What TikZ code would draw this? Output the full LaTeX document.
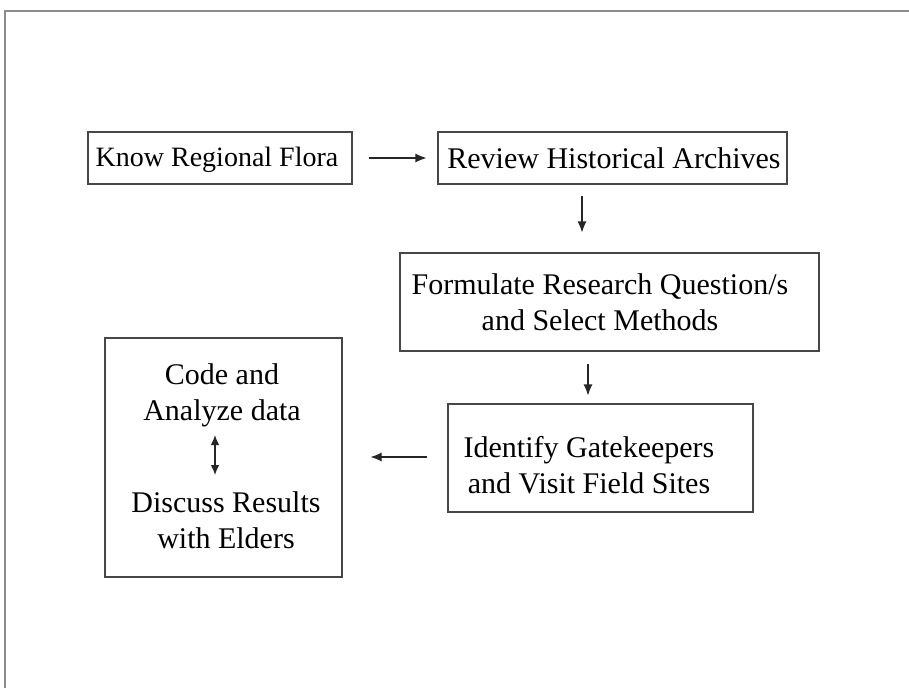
\documentclass[tikz,border=0pt]{standalone}
\usepackage{fontspec}
\setmainfont{Liberation Serif}
\usetikzlibrary{arrows.meta}
\begin{document}
\begin{tikzpicture}[x=1pt,y=-1pt,
  box/.style={draw=black!72,line width=1.1pt,rectangle,inner sep=0pt},
  txt/.style={inner sep=0pt,align=center,font=\fontsize{30}{36}\selectfont},
  arr/.style={draw=black!85,line width=1.1pt,-{Latex[length=11pt,width=9pt]}},
  darr/.style={draw=black!85,line width=1.1pt,{Latex[length=10pt,width=8.5pt]}-{Latex[length=10pt,width=8.5pt]}},
  frame/.style={draw=black!45,line width=2pt}]
\useasboundingbox (0,0) rectangle (909,688);
\coordinate (fl) at (5,688);
\coordinate (fc) at (5,11);
\coordinate (fr) at (909,11);
\draw[frame] (fl) -- (fc) -- (fr);

\node[box,minimum width=264pt,minimum height=52pt] (A) at (220,158) {};
\node[box,minimum width=349pt,minimum height=52pt] (B) at (612.5,158) {};
\node[box,minimum width=419pt,minimum height=98pt] (C) at (609.5,302) {};
\node[box,minimum width=305pt,minimum height=108pt] (D) at (600.5,458) {};
\node[box,minimum width=237pt,minimum height=239pt] (E) at (223.5,457.5) {};

\node[txt,font=\fontsize{28}{36}\selectfont] (A1) at (217,160) {Know Regional Flora};
\node[txt] (B1) at (614,158) {Review Historical Archives};
\node[txt] (C1) at (600,302) {Formulate Research Question/s\\and Select Methods};
\node[txt] (D1) at (589,465) {Identify Gatekeepers\\and Visit Field Sites};
\node[txt] (E1) at (222,395) {Code and\\Analyze data};
\node[txt] (E2) at (226,520) {Discuss Results\\with Elders};

\draw[arr] ([xshift=16pt]A.east) -- ([xshift=-11pt]B.west);
\draw[arr] ([xshift=-30.5pt,yshift=-11pt]B.south) -- ([xshift=-27.5pt,yshift=20pt]C.north);
\draw[arr] ([xshift=-21.5pt,yshift=-12pt]C.south) -- ([xshift=-12.5pt,yshift=8pt]D.north);
\draw[arr] ([xshift=-20pt,yshift=1pt]D.west) -- ([xshift=28pt,yshift=0.5pt]E.east);
\draw[darr] ([xshift=-8.5pt,yshift=22.5pt]E.center) -- ([xshift=-8.5pt,yshift=-17.5pt]E.center);
\end{tikzpicture}
\end{document}
